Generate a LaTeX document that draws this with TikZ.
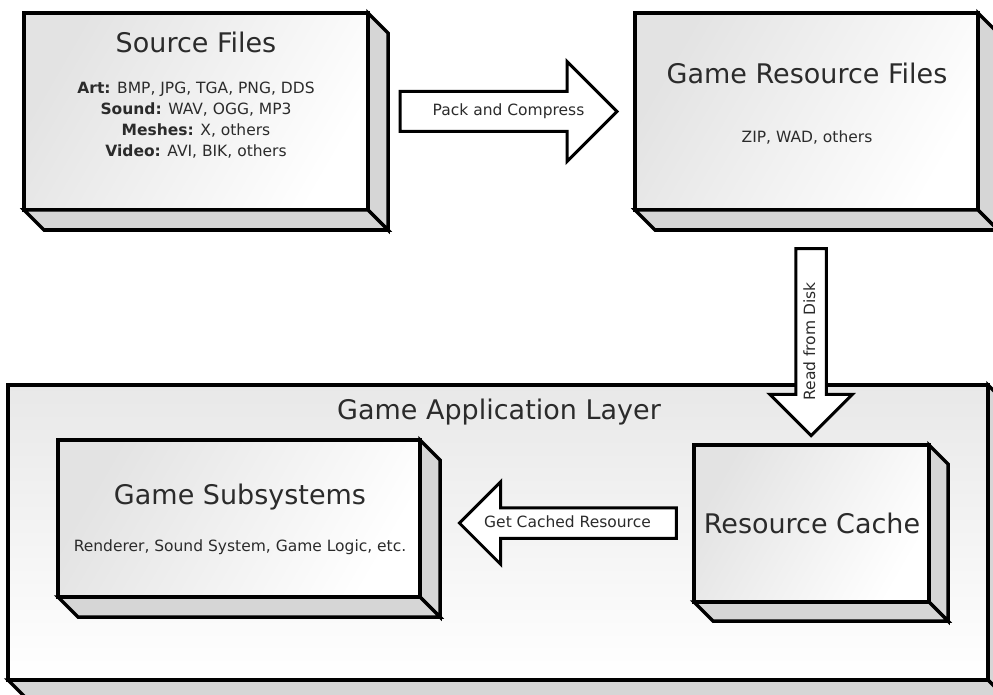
\documentclass[tikz,border=0pt]{standalone}
\usepackage{fontspec}
\setmainfont{DejaVu Sans}
\usetikzlibrary{shapes.arrows}
\definecolor{cInk}{HTML}{2B2B2B}
\tikzset{
  face/.style    ={draw=black,line width=3.5pt,outer sep=0pt,inner sep=0pt,
                   top color=black!11,bottom color=white,shading angle=60},
  side/.style    ={draw=black,line width=3.5pt,fill=black!16},
  ttl/.style     ={font=\fontsize{27}{30}\selectfont,text=cInk,inner sep=0pt},
  lst/.style     ={font=\fontsize{15.5}{21}\selectfont,text=cInk,align=center,inner sep=0pt},
  blkarrow/.style={single arrow,draw=black,line width=3pt,fill=white,
                   font=\fontsize{15.5}{18}\selectfont,text=cInk,
                   text height=11pt,text depth=3pt,inner xsep=0pt},
}
% depth faces (right and bottom) of a box node #1, offset #2
\newcommand\slab[2]{%
  \filldraw[side] (#1.north east) -- ++(#2,#2) -- ([shift={(#2,#2)}]#1.south east)
    -- (#1.south east) -- cycle;
  \filldraw[side] (#1.south west) -- (#1.south east) -- ([shift={(#2,#2)}]#1.south east)
    -- ([shift={(#2,#2)}]#1.south west) -- cycle;
}

\begin{document}
\begin{tikzpicture}[x=1pt, y=-1pt]
\useasboundingbox (0,0) rectangle (993,695);
\fill[white] (0,0) rectangle (993,695);
\clip (0,0) rectangle (993,695);

% --- game application layer, holding the two inner boxes ---------------
\node[face,anchor=north west,minimum width=980pt,minimum height=295pt,
      top color=black!9] (lay) at (8,385) {};
\slab{lay}{20}
\node[ttl] (layT) at (499,412) {Game Application Layer};

% --- top row: files on disk ------------------------------------------------
\node[face,anchor=north west,minimum width=344pt,minimum height=197pt] (src) at (24,13) {};
\slab{src}{20}
\node[ttl] (srcT) at (196,42) {Source Files};
\node[lst] (srcL) at (196,120.5)
  {\textbf{Art:} BMP, JPG, TGA, PNG, DDS\\ \textbf{Sound:} WAV, OGG, MP3\\
   \textbf{Meshes:} X, others\\ \textbf{Video:} AVI, BIK, others};

\node[face,anchor=north west,minimum width=343pt,minimum height=197pt] (grf) at (635,13) {};
\slab{grf}{20}
\node[ttl] (grfT) at (807,73) {Game Resource Files};
\node[lst] (grfL) at (807,138) {ZIP, WAD, others};

% --- inside the layer ---------------------------------------------------------
\node[face,anchor=north west,minimum width=362pt,minimum height=157pt] (gsub) at (58,440) {};
\slab{gsub}{20}
\node[ttl] (gsubT) at (240,497) {Game Subsystems};
\node[lst] (gsubL) at (240,547) {Renderer, Sound System, Game Logic, etc.};

\node[face,anchor=north west,minimum width=235pt,minimum height=157pt] (rc) at (694,445) {};
\slab{rc}{19}
\node[ttl] (rcT) at (812,523) {Resource Cache};

% --- block arrows between the boxes (hspace keeps the label off the head) ---
\node[blkarrow,minimum height=217pt,inner ysep=11.5pt,single arrow head extend=30pt]
  (pack) at (498.5,111.5) {\hspace*{20pt}Pack and Compress};
\node[blkarrow,minimum height=187pt,inner ysep=6.75pt,single arrow head extend=26pt,
      rotate=90,shape border rotate=180]
  (read) at (811,334.5) {Read from Disk\hspace*{14pt}};
\node[blkarrow,minimum height=217pt,inner ysep=6.75pt,single arrow head extend=26pt,
      shape border rotate=180]
  (get) at (575.5,523) {Get Cached Resource\hspace*{16pt}};

\end{tikzpicture}
\end{document}
